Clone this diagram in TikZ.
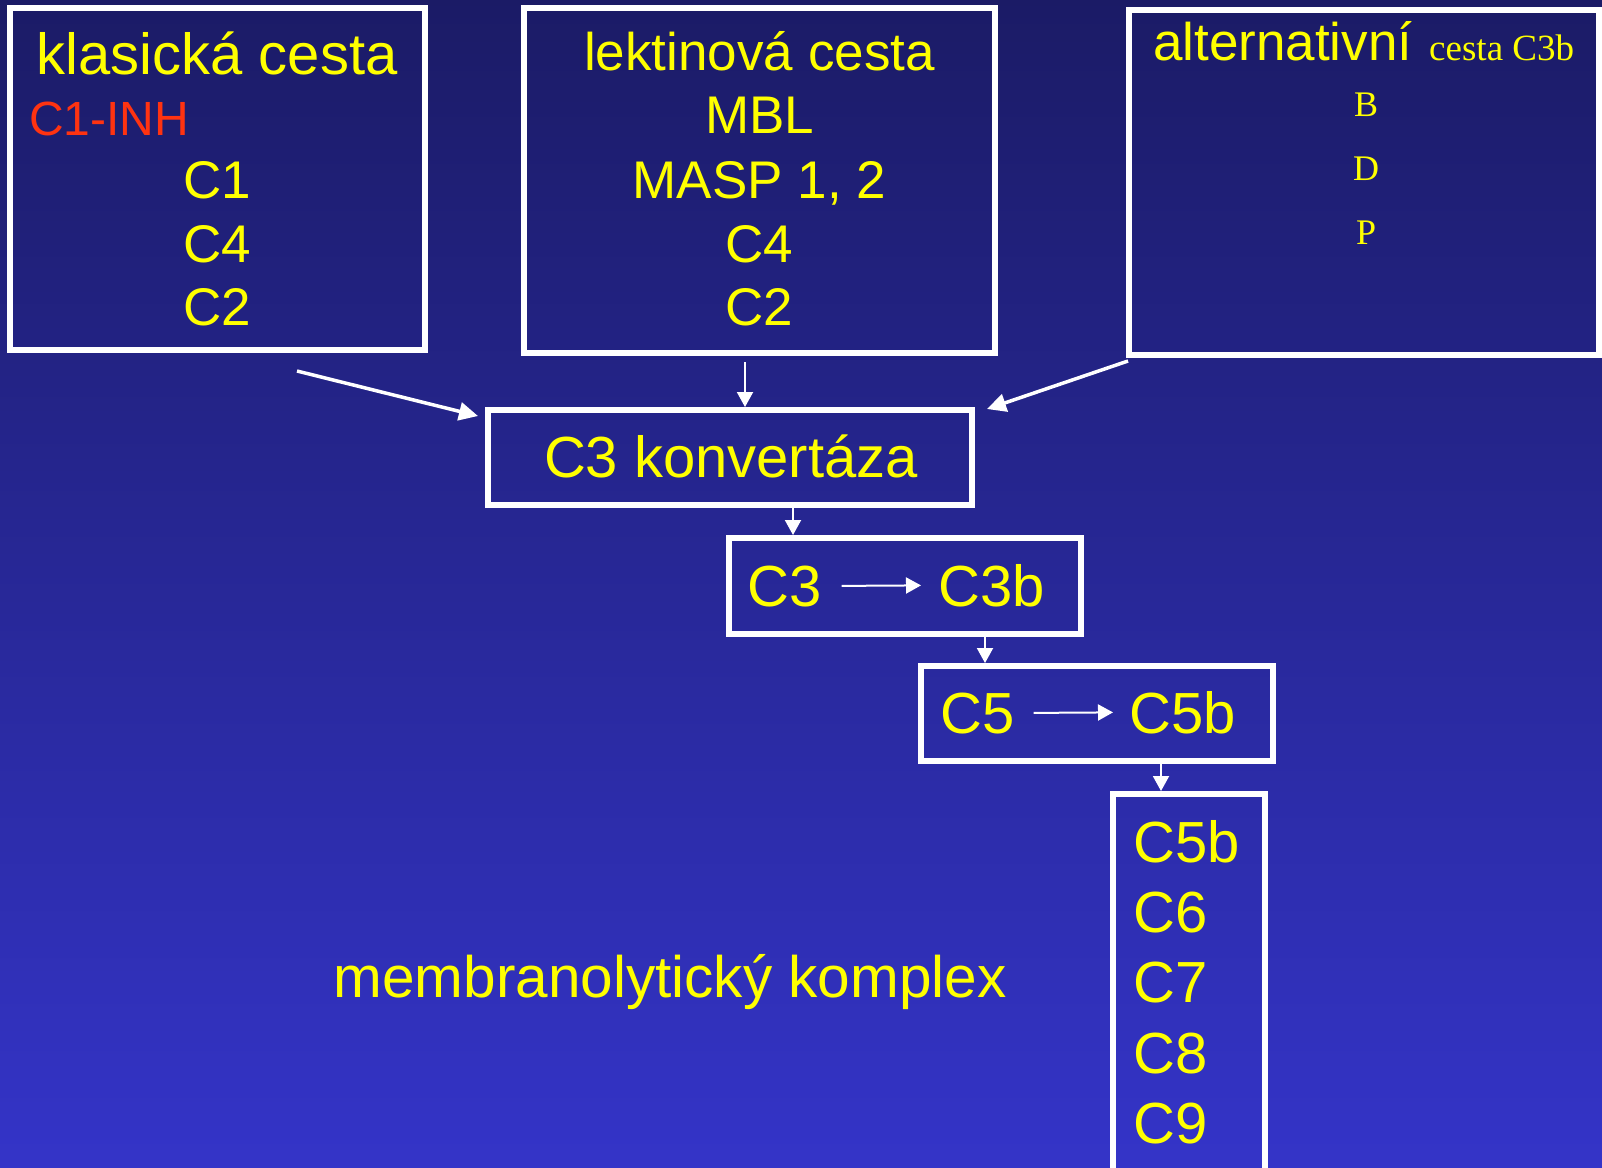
\documentclass[tikz,border=0pt]{standalone}
\usepackage{fontspec}
\setmainfont{Liberation Sans}
\newfontfamily\serifface{Liberation Serif}
\usetikzlibrary{arrows.meta}
\definecolor{navytop}{HTML}{1B1B66}
\definecolor{navybot}{HTML}{3434C8}
\definecolor{gelb}{HTML}{FFFF00}
\definecolor{inhred}{HTML}{FF3311}
\newcommand{\sz}[1]{\fontsize{#1}{#1}\selectfont}

\begin{document}
\begin{tikzpicture}[x=1pt, y=-1pt]

    % --- styles ---
    \tikzset{
        block/.style={rectangle, draw=white, line width=6pt, inner sep=0pt},
        txt/.style={text=gelb, inner sep=0pt},
        flow/.style={white, line width=2pt, -{Triangle[length=15pt, width=16pt]}},
        bigflow/.style={white, line width=3.5pt, -{Triangle[length=19pt, width=18pt]}}
    }

    % --- background ---
    \clip (0,0) rectangle (1602,1167);
    \shade[top color=navytop, bottom color=navybot] (0,0) rectangle (1602,1167);

    % --- blocks ---
    \node[block, minimum width=415pt, minimum height=342pt] (klas)  at (217.5,179)  {};
    \node[block, minimum width=471pt, minimum height=345pt] (lekt)  at (759.5,180.5) {};
    \node[block, minimum width=470pt, minimum height=345pt] (alt)   at (1364,182.5) {};
    \node[block, minimum width=484pt, minimum height=95pt]  (konv)  at (730,457.5)  {};
    \node[block, minimum width=352pt, minimum height=96pt]  (cbox3) at (905,586)    {};
    \node[block, minimum width=352pt, minimum height=95pt]  (cbox5) at (1097,713.5) {};
    \node[block, minimum width=152pt, minimum height=420pt] (mac)   at (1189,1004)  {};

    % --- klasicka cesta ---
    \node[txt, anchor=base, font=\sz{58}] (klasT) at (217,74) {klasická cesta};
    \node[txt, anchor=base west, text=inhred, font=\sz{48}] (inh) at (29,135) {C1-INH};
    \node[txt, anchor=base west, font=\sz{53}] (kC1) at (183,198) {C1};
    \node[txt, anchor=base west, font=\sz{53}] (kC4) at (183,262) {C4};
    \node[txt, anchor=base west, font=\sz{53}] (kC2) at (183,325) {C2};

    % --- lektinova cesta ---
    \node[txt, anchor=base, font=\sz{53}] (lektT) at (759.5,70)  {lektinová cesta};
    \node[txt, anchor=base, font=\sz{53}] (mbl)   at (759.5,133) {MBL};
    \node[txt, anchor=base, font=\sz{53}] (masp)  at (759.5,198) {MASP 1, 2};
    \node[txt, anchor=base, font=\sz{53}] (lC4)   at (759.5,262) {C4};
    \node[txt, anchor=base, font=\sz{53}] (lC2)   at (759.5,325) {C2};

    % --- alternativni cesta ---
    \node[txt, anchor=base west, font=\sz{53}] (altT) at (1153,60) {alternativní};
    \node[txt, anchor=base west, font=\serifface\sz{37}] (altS) at (1429,60) {cesta C3b};
    \node[txt, anchor=base, font=\serifface\sz{36}] (fB) at (1366,116) {B};
    \node[txt, anchor=base, font=\serifface\sz{36}] (fD) at (1366,180) {D};
    \node[txt, anchor=base, font=\serifface\sz{36}] (fP) at (1366,244) {P};

    % --- C3 konvertaza, C3, C5 ---
    \node[txt, anchor=base, font=\sz{58}] (konvT) at (731,477) {C3 konvertáza};
    \node[txt, anchor=base west, font=\sz{58}] (c3)  at (747,606) {C3};
    \node[txt, anchor=base west, font=\sz{58}] (c3b) at (938,606) {C3b};
    \node[txt, anchor=base west, font=\sz{58}] (c5)  at (940,733) {C5};
    \node[txt, anchor=base west, font=\sz{58}] (c5b) at (1129,733) {C5b};

    % --- membranolyticky komplex ---
    \node[txt, anchor=base west, font=\sz{58}] (m5b) at (1133,862)  {C5b};
    \node[txt, anchor=base west, font=\sz{58}] (m6)  at (1133,932)  {C6};
    \node[txt, anchor=base west, font=\sz{58}] (m7)  at (1133,1002) {C7};
    \node[txt, anchor=base west, font=\sz{58}] (m8)  at (1133,1073) {C8};
    \node[txt, anchor=base west, font=\sz{58}] (m9)  at (1133,1143) {C9};
    \node[txt, anchor=base, font=\sz{58.5}] (memb) at (670,997) {membranolytický komplex};

    % --- arrows ---
    \coordinate (klasOut) at (297,371);
    \coordinate (konvInL) at (478,416);
    \draw[bigflow] (klasOut) -- (konvInL);

    \coordinate (lektOut) at (745,362);
    \draw[flow] (lektOut) -- (lektOut |- konv.north);

    \coordinate (altOut)  at (1128,361);
    \coordinate (konvInR) at (987,409);
    \draw[bigflow] (altOut) -- (konvInR);

    \coordinate (colA) at (793,0);
    \coordinate (colB) at (985,0);
    \coordinate (colC) at (1161,0);
    \draw[flow] (konv.south -| colA)  -- (cbox3.north -| colA);
    \draw[flow] (cbox3.south -| colB) -- (cbox5.north -| colB);
    \draw[flow] (cbox5.south -| colC) -- (mac.north -| colC);

    \draw[flow, shorten <=20pt, shorten >=17pt] (c3.east) -- (c3b.west);
    \draw[flow, shorten <=19pt, shorten >=16pt] (c5.east) -- (c5b.west);

\end{tikzpicture}
\end{document}
